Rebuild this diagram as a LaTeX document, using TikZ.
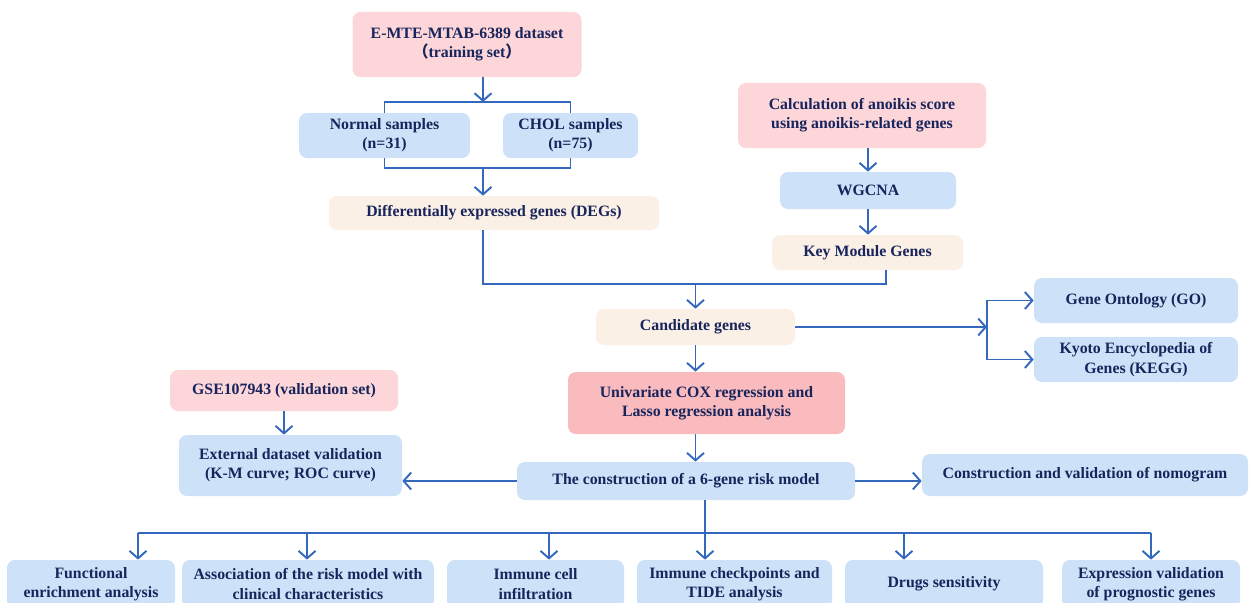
\documentclass[tikz,border=0pt]{standalone}
\usepackage{fontspec}
\setmainfont{Liberation Serif}
\newfontfamily\cjk{Noto Sans CJK SC}
\usetikzlibrary{arrows.meta,positioning}
\tikzstyle{box}=[rounded corners=4.5pt,align=center,text=mynavy,inner sep=2pt,font=\bfseries\fontsize{9}{11}\selectfont]
\tikzstyle{pinkbox}=[box,fill=mypink]
\tikzstyle{rosebox}=[box,fill=myrose]
\tikzstyle{bluebox}=[box,fill=myblue]
\tikzstyle{tanbox}=[box,fill=mytan]
\tikzstyle{link}=[draw=myline,line width=1.1pt]
\tikzstyle{arr}=[link,-{Straight Barb[length=1.5mm,width=3.4mm]}]
\definecolor{mypink}{RGB}{252,214,216}
\definecolor{myrose}{RGB}{249,187,189}
\definecolor{myblue}{RGB}{205,226,248}
\definecolor{mytan}{RGB}{251,240,230}
\definecolor{myline}{RGB}{52,104,190}
\definecolor{mynavy}{RGB}{24,36,92}

\begin{document}
\begin{tikzpicture}
\useasboundingbox (0,0) rectangle (25.04,-12.04);
\clip (0,0) rectangle (25.04,-12.04);
% training branch
\draw (9.34,-0.89) node [pinkbox,minimum width=4.58cm,minimum height=1.30cm] (data) {E-MTE-MTAB-6389 dataset\\{\cjk （}training set{\cjk ）}};
\draw (7.69,-2.71) node [bluebox,minimum width=3.42cm,minimum height=0.90cm] (normal) {Normal samples\\(n=31)};
\draw (11.41,-2.71) node [bluebox,minimum width=2.70cm,minimum height=0.90cm] (chol) {CHOL samples\\(n=75)};
\draw (9.88,-4.26) node [tanbox,minimum width=6.60cm,minimum height=0.68cm] (degs) {Differentially expressed genes (DEGs)};
% anoikis branch
\draw (17.24,-2.31) node [pinkbox,minimum width=4.96cm,minimum height=1.30cm] (calc) {Calculation of anoikis score\\using anoikis-related genes};
\draw (17.36,-3.81) node [bluebox,minimum width=3.52cm,minimum height=0.74cm] (wgcna) {WGCNA};
\draw (17.35,-5.05) node [tanbox,minimum width=3.82cm,minimum height=0.70cm] (keymod) {Key Module Genes};
% candidates and model
\draw (13.91,-6.54) node [tanbox,minimum width=3.98cm,minimum height=0.72cm] (cand) {Candidate genes};
\draw (22.72,-6.01) node [bluebox,minimum width=4.08cm,minimum height=0.90cm] (go) {Gene Ontology (GO)};
\draw (22.72,-7.19) node [bluebox,minimum width=4.08cm,minimum height=0.90cm] (kegg) {Kyoto Encyclopedia of\\Genes (KEGG)};
\draw (14.13,-8.06) node [rosebox,minimum width=5.54cm,minimum height=1.24cm] (unicox) {Univariate COX regression and\\Lasso regression analysis};
\draw (5.68,-7.81) node [pinkbox,minimum width=4.56cm,minimum height=0.82cm] (gse) {GSE107943 (validation set)};
\draw (5.81,-9.31) node [bluebox,minimum width=4.46cm,minimum height=1.22cm] (extval) {External dataset validation\\(K-M curve; ROC curve)};
\draw (13.72,-9.62) node [bluebox,minimum width=6.76cm,minimum height=0.76cm] (model) {The construction of a 6-gene risk model};
\draw (21.70,-9.50) node [bluebox,minimum width=6.52cm,minimum height=0.84cm] (nomo) {Construction and validation of nomogram};
% downstream analyses
\draw (1.82,-11.68) node [bluebox,minimum width=3.36cm,minimum height=0.96cm] (func) {Functional\\enrichment analysis};
\draw (6.16,-11.68) node [bluebox,minimum width=5.04cm,minimum height=0.96cm] (assoc) {Association of the risk model with\\clinical characteristics};
\draw (10.71,-11.68) node [bluebox,minimum width=3.54cm,minimum height=0.96cm] (icell) {Immune cell\\infiltration};
\draw (14.69,-11.68) node [bluebox,minimum width=3.90cm,minimum height=0.96cm] (ickp) {Immune checkpoints and\\TIDE analysis};
\draw (18.88,-11.68) node [bluebox,minimum width=3.96cm,minimum height=0.96cm] (drug) {Drugs sensitivity};
\draw (23.02,-11.68) node [bluebox,minimum width=3.56cm,minimum height=0.96cm] (expr) {Expression validation\\of prognostic genes};

\coordinate (split) at (9.66,-2.04);
\coordinate (merge) at (9.66,-3.36);
\coordinate (join) at (13.91,-5.68);
\coordinate (kjoin) at (17.72,-5.68);
\coordinate (fork) at (19.74,-6.58);
\draw[arr] (data.south -| split) -- (split);
\draw[link] (normal.north) |- (split) -| (chol.north);
\draw[link] (normal.south) |- (merge) -| (chol.south);
\draw[arr] (merge) -- (merge |- degs.north);
\draw[link] (degs.south -| merge) |- (kjoin) -- (kjoin |- keymod.south);
\draw[arr] (join) -- (cand.north);
\draw[arr] (calc.south -| wgcna.north) -- (wgcna.north);
\draw[arr] (wgcna.south) -- (wgcna.south |- keymod.north);
\draw[arr] (cand.east) -- (cand.east -| fork);
\draw[arr] (cand.east -| fork) |- (go.west);
\draw[arr] (cand.east -| fork) |- (kegg.west);
\draw[arr] (cand.south) -- (cand.south |- unicox.north);
\draw[arr] (unicox.south -| cand) -- (model.north -| cand);
\draw[arr] (gse.south) -- (gse.south |- extval.north);
\draw[arr] (model.west) -- (model.west -| extval.east);
\draw[arr] (model.east) -- (model.east -| nomo.west);
% bus to the analyses
\coordinate (b1) at (2.76,-10.66);
\coordinate (b2) at (6.14,-10.66);
\coordinate (b3) at (10.98,-10.66);
\coordinate (b4) at (14.10,-10.66);
\coordinate (b5) at (18.08,-10.66);
\coordinate (b6) at (23.02,-10.66);
\draw[link] (b1) -- (b6);
\draw[link] (model.south -| b4) -- (b4);
\foreach \i/\n in {1/func,2/assoc,3/icell,4/ickp,5/drug,6/expr}
  \draw[arr] (b\i) -- (b\i |- \n.north);
\end{tikzpicture}
\end{document}
